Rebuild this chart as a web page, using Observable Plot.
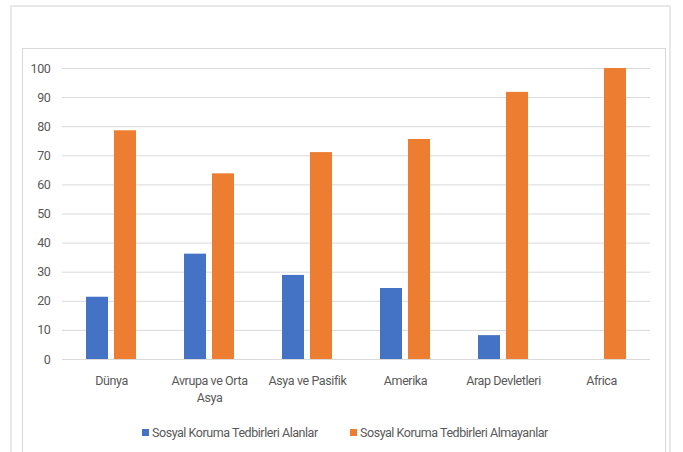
<!DOCTYPE html>
<html>
<head>
<meta charset="utf-8">
<script src="https://cdn.jsdelivr.net/npm/d3@7"></script>
<script src="https://cdn.jsdelivr.net/npm/@observablehq/plot@0.6"></script>
<style>
  html, body { margin: 0; padding: 0; background: #fff; }
  body { width: 683px; height: 452px; overflow: hidden; position: relative;
         font-family: "Roboto", sans-serif; }
  .frame-outer { position: absolute; left: 10px; top: 5px; width: 661px; height: 460px;
                 border: 2px solid #e8e8e8; box-sizing: border-box; }
  .frame-inner { position: absolute; left: 22px; top: 48px; width: 644px; height: 420px;
                 border: 1px solid #d9d9d9; box-sizing: border-box; }
  #chart { position: absolute; left: 0; top: 0; }
  #legend { position: absolute; left: 0; top: 421px; width: 683px; height: 22px;
            font-family: "Roboto", sans-serif; font-size: 12.5px; letter-spacing: -0.45px; color: #595959; }
  .item { position: absolute; top: 0; display: flex; align-items: center; height: 22px; white-space: nowrap; }
  .sw { width: 7px; height: 7px; margin-right: 3px; }
</style>
</head>
<body>
<div class="frame-outer"></div>
<div class="frame-inner"></div>
<div id="chart"></div>
<div id="legend"></div>
<script>
const categories = ["Dünya", "Avrupa ve Orta\nAsya", "Asya ve Pasifik", "Amerika", "Arap Devletleri", "Africa"];
const series = ["Sosyal Koruma Tedbirleri Alanlar", "Sosyal Koruma Tedbirleri Almayanlar"];
const alanlar = [21.4, 36.2, 28.9, 24.4, 8.2, 0];
const almayanlar = [78.6, 63.8, 71.1, 75.6, 91.8, 100];
const yTicks = [0, 10, 20, 30, 40, 50, 60, 70, 80, 90, 100];
const colors = ["#4472C4", "#ED7D31"];

const rows = [];
categories.forEach((c, i) => {
  rows.push({cat: c, series: series[0], value: alanlar[i]});
  rows.push({cat: c, series: series[1], value: almayanlar[i]});
});

const chart = Plot.plot({
  width: 683,
  height: 420,
  marginLeft: 62,
  marginRight: 33,
  marginTop: 68,
  marginBottom: 61,
  style: {fontFamily: '"Roboto", sans-serif', fontSize: "12.5px", letterSpacing: "-0.4px", color: "#595959", background: "transparent"},
  fx: {domain: categories, padding: 0, label: null},
  x: {domain: series, paddingInner: 6 / 28, paddingOuter: 24 / 28, axis: null},
  y: {domain: [0, 100], label: null},
  color: {domain: series, range: colors},
  marks: [
    Plot.ruleY(yTicks, {stroke: "#d9d9d9", strokeWidth: 1}),
    Plot.axisY({ticks: yTicks, tickSize: 0, tickPadding: 12, label: null, fill: "#595959"}),
    Plot.axisFx({anchor: "bottom", tickSize: 0, tickPadding: 13, label: null, lineHeight: 1.4, fill: "#595959"}),
    Plot.barY(rows, {fx: "cat", x: "series", y: "value", fill: "series"})
  ]
});
document.getElementById("chart").appendChild(chart);

const legend = document.getElementById("legend");
const lx = [142, 350];
series.forEach((s, i) => {
  const it = document.createElement("div");
  it.className = "item";
  it.style.left = lx[i] + "px";
  const sw = document.createElement("span");
  sw.className = "sw";
  sw.style.background = colors[i];
  const t = document.createElement("span");
  t.textContent = s;
  it.appendChild(sw);
  it.appendChild(t);
  legend.appendChild(it);
});
</script>
</body>
</html>
